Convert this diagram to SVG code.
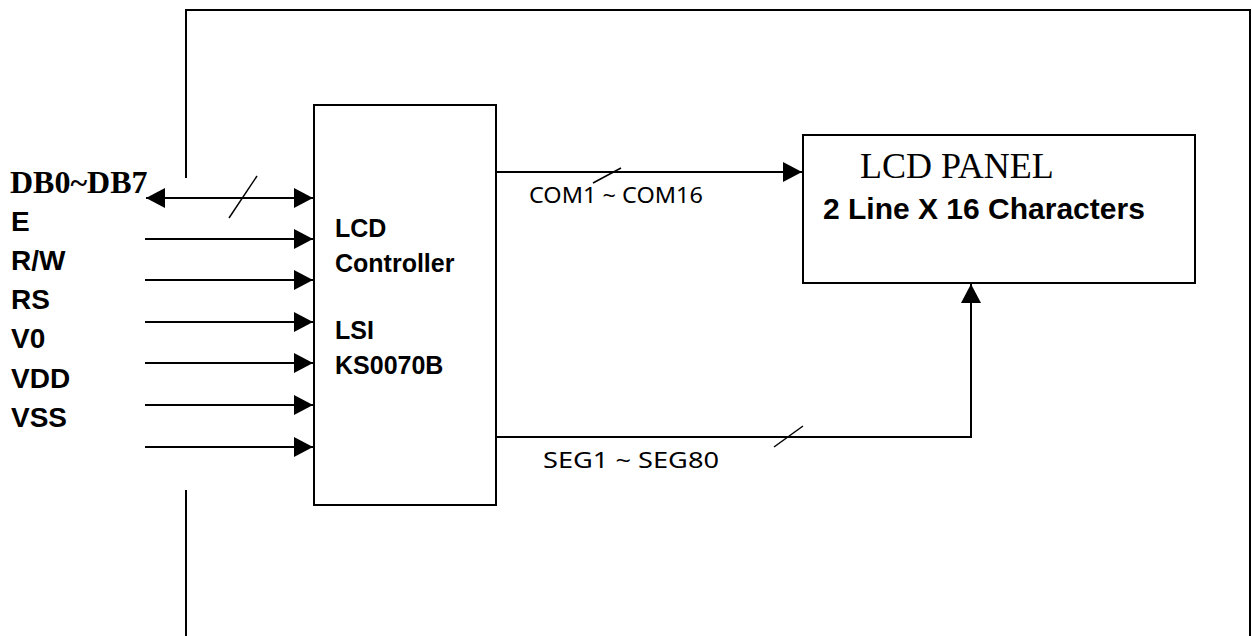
<svg xmlns="http://www.w3.org/2000/svg" width="1252" height="636" viewBox="0 0 1252 636">
<style>
.ln{stroke:#000;stroke-width:2;fill:none}
.thin{stroke:#000;stroke-width:1.5;fill:none}
.box{stroke:#000;stroke-width:2;fill:#fff}
.lbl{font-family:"Liberation Sans",Arial,sans-serif;font-weight:bold;font-size:28px;fill:#000}
.ctl{font-family:"Liberation Sans",Arial,sans-serif;font-weight:bold;font-size:25px;fill:#000}
.bus{font-family:"Noto Sans","Liberation Sans",Arial,sans-serif;font-size:22px;fill:#000}
</style>
<defs>
<marker id="ah" markerUnits="userSpaceOnUse" markerWidth="20" markerHeight="22" refX="19" refY="10" orient="auto">
<path d="M0,0 L19,10 L0,20 Z" fill="#000"/>
</marker>
<marker id="ahs" markerUnits="userSpaceOnUse" markerWidth="20" markerHeight="22" refX="19" refY="10" orient="auto-start-reverse">
<path d="M0,0 L19,10 L0,20 Z" fill="#000"/>
</marker>
</defs>
<rect width="1252" height="636" fill="#fff"/>
<g id="frame">
<path class="ln" d="M186,178 L186,10 L1250,10 L1250,636"/>
<path class="ln" d="M186,490 L186,636"/>
</g>
<g id="controller">
<rect class="box" x="314" y="105" width="182" height="400"/>
<text class="ctl" x="335" y="237">LCD</text>
<text class="ctl" x="335" y="272">Controller</text>
<text class="ctl" x="335" y="339">LSI</text>
<text class="ctl" x="335" y="374">KS0070B</text>
</g>
<g id="panel">
<rect class="box" x="803" y="135" width="392" height="148"/>
<text x="860" y="178" style="font-family:'Liberation Serif','Times New Roman',serif;font-size:36px">LCD PANEL</text>
<text class="lbl" x="823" y="219" style="font-size:30px">2 Line X 16 Characters</text>
</g>
<g id="labels">
<text x="10" y="193" style="font-family:'Liberation Serif','Times New Roman',serif;font-weight:bold;font-size:32px">DB0~DB7</text>
<text class="lbl" x="11" y="231">E</text>
<text class="lbl" x="11" y="270">R/W</text>
<text class="lbl" x="11" y="309">RS</text>
<text class="lbl" x="11" y="348">V0</text>
<text class="lbl" x="11" y="388">VDD</text>
<text class="lbl" x="11" y="427">VSS</text>
</g>
<g id="connectors">
<line class="ln" x1="146" y1="198" x2="313" y2="198" marker-start="url(#ahs)" marker-end="url(#ah)"/>
<line class="thin" x1="229" y1="218" x2="257" y2="176"/>
<line class="ln" x1="145" y1="239" x2="313" y2="239" marker-end="url(#ah)"/>
<line class="ln" x1="145" y1="280" x2="313" y2="280" marker-end="url(#ah)"/>
<line class="ln" x1="145" y1="322" x2="313" y2="322" marker-end="url(#ah)"/>
<line class="ln" x1="145" y1="363" x2="313" y2="363" marker-end="url(#ah)"/>
<line class="ln" x1="145" y1="405" x2="313" y2="405" marker-end="url(#ah)"/>
<line class="ln" x1="145" y1="447" x2="313" y2="447" marker-end="url(#ah)"/>
<line class="ln" x1="496" y1="172" x2="802" y2="172" marker-end="url(#ah)"/>
<line class="thin" x1="593" y1="183" x2="621" y2="168"/>
<text class="bus" x="529" y="203" textLength="174" lengthAdjust="spacingAndGlyphs">COM1 ~ COM16</text>
<path class="ln" d="M496,437 L971,437 L971,284" marker-end="url(#ah)"/>
<line class="thin" x1="774" y1="447" x2="803" y2="426"/>
<text class="bus" x="543" y="468" textLength="176" lengthAdjust="spacingAndGlyphs">SEG1 ~ SEG80</text>
</g>
</svg>
